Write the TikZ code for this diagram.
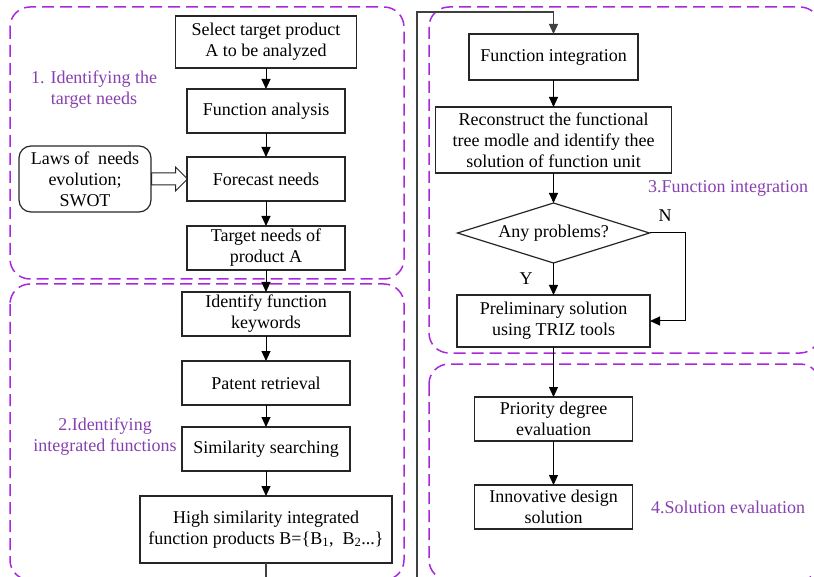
\documentclass[tikz,border=0pt]{standalone}
\usepackage{fontspec}
\setmainfont{Liberation Serif}
\usepackage{tikz}
\usetikzlibrary{shapes.geometric, shapes.arrows, arrows.meta, positioning}
\definecolor{grpline}{RGB}{170,40,220}
\definecolor{grptext}{RGB}{135,65,175}

\begin{document}
\begin{tikzpicture}[x=1pt, y=-1pt,
    box/.style={rectangle, draw=black!85, line width=1.2pt, minimum width=158pt, minimum height=44pt, inner sep=2pt, outer sep=0pt, align=center, font=\fontsize{18}{21}\selectfont},
    decision/.style={diamond, draw=black!85, line width=1.2pt, minimum width=192pt, minimum height=60pt, aspect=3.2, inner sep=1pt, outer sep=0pt, font=\fontsize{18}{21}\selectfont},
    group/.style={draw=grpline, line width=1.5pt, dash pattern=on 12pt off 6pt, rounded corners=20pt},
    grouplabel/.style={text=grptext, align=center, font=\fontsize{18}{21}\selectfont},
    yn/.style={font=\fontsize{18}{21}\selectfont},
    arrow/.style={-{Triangle[length=10pt, width=9pt]}, line width=1pt}
]
\useasboundingbox (0,0) rectangle (814,577);
\clip (0,0) rectangle (814,577);

\draw[group] (10,7) rectangle (404,279);
\draw[group] (10,284) rectangle (404,580);
\draw[group] (429,7) rectangle (820,353);
\draw[group] (429,364) rectangle (820,580);

\node[box, minimum width=181pt, minimum height=52pt] (select) at (266,42) {Select target product\\A to be analyzed};
\node[box, below=21pt of select] (analysis) {Function analysis};
\node[box, below=24pt of analysis] (forecast) {Forecast needs};
\node[box, below=25pt of forecast] (target) {Target needs of\\product A};
\node[box, rounded corners=12pt, minimum width=132pt, minimum height=66pt] (laws) at (85,179) {Laws of\ \ needs\\evolution;\\SWOT};
\node[single arrow, draw=black!85, line width=1pt, minimum height=36pt, minimum width=23pt, single arrow head extend=6pt, inner xsep=0pt, inner ysep=5.5pt, anchor=tail] (fatarrow) at (laws.east) {};

\node[box, minimum width=168pt, below=22pt of target] (keywords) {Identify function\\keywords};
\node[box, minimum width=168pt, below=25pt of keywords] (patent) {Patent retrieval};
\node[box, minimum width=168pt, below=22pt of patent] (similar) {Similarity searching};
\node[box, minimum width=252pt, minimum height=67pt, below=25pt of similar] (products) {High similarity integrated\\function products B=\{B\textsubscript{1},\enspace B\textsubscript{2}...\}};

\node[box, minimum width=169pt, minimum height=46pt] (integration) at (553.5,57) {Function integration};
\node[box, minimum width=236pt, minimum height=66pt, below=27pt of integration] (rebuild) {Reconstruct the functional\\tree modle and identify thee\\solution of function unit};
\node[decision, below=30pt of rebuild] (problems) {Any problems?};
\node[box, minimum width=193pt, minimum height=52pt, below=32pt of problems] (prelim) {Preliminary solution\\using TRIZ tools};
\node[box, below=50pt of prelim] (priority) {Priority degree\\evaluation};
\node[box, below=44pt of priority] (innovative) {Innovative design\\solution};

\node[grouplabel] (lbl1) at (94,90) {1. Identifying the\\target needs};
\node[grouplabel] (lbl2) at (105,437) {2.Identifying\\integrated functions};
\node[grouplabel] (lbl3) at (728,188) {3.Function integration};
\node[grouplabel] (lbl4) at (728,507) {4.Solution evaluation};
\node[yn] (no) at (665,216) {N};
\node[yn] (yes) at (526,279) {Y};

\coordinate (loopbot) at (417,590);
\coordinate (looptop) at (417,12);

\draw[arrow] (select) -- (analysis);
\draw[arrow] (analysis) -- (forecast);
\draw[arrow] (forecast) -- (target);
\draw[arrow] (target) -- (keywords);
\draw[arrow] (keywords) -- (patent);
\draw[arrow] (patent) -- (similar);
\draw[arrow] (similar) -- (products);
\draw[arrow, draw=black!75, line width=1.2pt] (products.south) |- (loopbot) -- (looptop) -| (integration.north);
\draw[arrow] (integration) -- (rebuild);
\draw[arrow] (rebuild) -- (problems);
\draw[arrow] (problems) -- (prelim);
\draw[arrow] (problems.east) -- ++(36,0) |- (prelim.east);
\draw[arrow] (prelim) -- (priority);
\draw[arrow] (priority) -- (innovative);

\end{tikzpicture}
\end{document}
